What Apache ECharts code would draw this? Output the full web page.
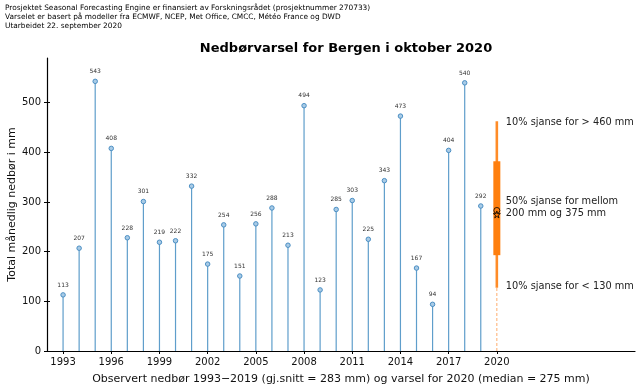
<!DOCTYPE html>
<html>
<head>
<meta charset="utf-8">
<script src="https://cdn.jsdelivr.net/npm/echarts@6/dist/echarts.min.js"></script>
<style>html,body{margin:0;padding:0;background:#fff;}#c{width:639px;height:391px;}</style>
</head>
<body>
<div id="c"></div>
<script>
const years = [1993,1994,1995,1996,1997,1998,1999,2000,2001,2002,2003,2004,2005,2006,2007,2008,2009,2010,2011,2012,2013,2014,2015,2016,2017,2018,2019];
const observed = [113,207,543,408,228,301,219,222,332,175,254,151,256,288,213,494,123,285,303,225,343,473,167,94,404,540,292];
const forecastYear = 2020;
const fcP10 = 130, fcQ1 = 200, fcQ3 = 375, fcP90 = 460;
const fcMedian = 275, obsMean = 283;
const xTickYears = [1993,1996,1999,2002,2005,2008,2011,2014,2017,2020];
const yTicks = [0,100,200,300,400,500];
const headerLines = [
  'Prosjektet Seasonal Forecasting Engine er finansiert av Forskningsrådet (prosjektnummer 270733)',
  'Varselet er basert på modeller fra ECMWF, NCEP, Met Office, CMCC, Météo France og DWD',
  'Utarbeidet 22. september 2020'
];
const titleText = 'Nedbørvarsel for Bergen i oktober 2020';
const xName = 'Observert nedbør 1993\u22122019 (gj.snitt = 283 mm) og varsel for 2020 (median = 275 mm)';
const yName = 'Total månedlig nedbør i mm';
const noteTop = '10% sjanse for > 460 mm';
const noteMid = '50% sjanse for mellom\n200 mm og 375 mm';
const noteBot = '10% sjanse for < 130 mm';

const FONT = 'DejaVu Sans';
const obsData = years.map((y,i)=>[y, observed[i]]);
const star = 'path://M50,0 L61,35 L98,35 L68,57 L79,91 L50,70 L21,91 L32,57 L2,35 L39,35 Z';

const chart = echarts.init(document.getElementById('c'), null, {renderer:'canvas'});
chart.setOption({
  animation:false,
  backgroundColor:'#fff',
  textStyle:{fontFamily:FONT},
  title:{text:titleText,left:341,textAlign:'center',top:37,
    textStyle:{fontFamily:FONT,fontSize:13,fontWeight:'bold',color:'#000'}},
  graphic:[{type:'text',left:5,top:4,style:{text:headerLines.join('\n'),font:'7.4px "DejaVu Sans"',lineHeight:9,fill:'#000'}}],
  grid:{left:47,right:4,top:58,bottom:40,containLabel:false,outerBoundsMode:'none'},
  xAxis:{type:'value',min:1992,max:2028.6,
    name:xName,nameLocation:'middle',nameGap:23,nameMoveOverlap:false,
    nameTextStyle:{fontFamily:FONT,fontSize:11,color:'#111'},
    axisLine:{show:true,lineStyle:{color:'#000',width:1.2}},
    axisTick:{show:true,length:3,lineStyle:{color:'#000'},customValues:xTickYears},
    axisLabel:{customValues:xTickYears,formatter:v=>String(v),fontFamily:FONT,fontSize:10,color:'#111',margin:6},
    splitLine:{show:false}},
  yAxis:[{type:'value',min:0,max:590,
    name:yName,nameLocation:'middle',nameGap:29,nameMoveOverlap:false,
    nameTextStyle:{fontFamily:FONT,fontSize:11,color:'#111'},
    axisLine:{show:true,lineStyle:{color:'#000',width:1.2}},
    axisTick:{show:true,length:3,lineStyle:{color:'#000'},customValues:yTicks},
    axisLabel:{customValues:yTicks,formatter:v=>String(v),fontFamily:FONT,fontSize:10,color:'#111',margin:6},
    splitLine:{show:false}},
   {type:'value',min:0,max:590,position:'left',
    axisLine:{show:false},axisLabel:{show:false},splitLine:{show:false},
    axisTick:{show:true,inside:true,length:3,lineStyle:{color:'#000'},customValues:yTicks}}],
  series:[
    {type:'custom',data:obsData,encode:{x:0,y:1},z:2,silent:true,
     renderItem:function(params,api){
       const p0=api.coord([api.value(0),0]);
       const p1=api.coord([api.value(0),api.value(1)]);
       return {type:'line',shape:{x1:p0[0],y1:p0[1],x2:p1[0],y2:p1[1]},
         style:{stroke:'#5f9ecb',lineWidth:1.2}};
     }},
    {type:'scatter',data:obsData,z:3,symbol:'circle',symbolSize:4.5,silent:true,
     itemStyle:{color:'#a9cbe6',borderColor:'#4b8fc4',borderWidth:1,opacity:1},
     label:{show:true,position:'top',distance:4,fontFamily:FONT,fontSize:6,color:'#333',
       formatter:p=>String(p.value[1])}},
    {type:'custom',data:[[forecastYear,fcP10,fcQ1,fcQ3,fcP90]],encode:{x:0,y:4},z:4,silent:true,
     renderItem:function(params,api){
       const x=api.value(0);
       const c0=api.coord([x,0]);
       const c10=api.coord([x,api.value(1)]);
       const c25=api.coord([x,api.value(2)]);
       const c75=api.coord([x,api.value(3)]);
       const c90=api.coord([x,api.value(4)]);
       const tx=c0[0]+9;
       const cm=api.coord([x,(api.value(2)+api.value(3))/2]);
       return {type:'group',children:[
         {type:'line',shape:{x1:c0[0],y1:c0[1],x2:c10[0],y2:c10[1]},
          style:{stroke:'#ffa45c',lineWidth:0.9,lineDash:[3,2]}},
         {type:'line',shape:{x1:c10[0],y1:c10[1],x2:c90[0],y2:c90[1]},
          style:{stroke:'#ff8c28',lineWidth:2.6,lineCap:'square'}},
         {type:'line',shape:{x1:c25[0],y1:c25[1],x2:c75[0],y2:c75[1]},
          style:{stroke:'#ff7f0e',lineWidth:7,lineCap:'square'}},
         {type:'text',x:tx,y:c90[1],style:{text:noteTop,font:'9.8px "DejaVu Sans"',fill:'#222',verticalAlign:'middle',align:'left'}},
         {type:'text',x:tx,y:cm[1]-1,style:{text:noteMid,font:'9.8px "DejaVu Sans"',lineHeight:12,fill:'#222',verticalAlign:'middle',align:'left'}},
         {type:'text',x:tx,y:c10[1],style:{text:noteBot,font:'9.8px "DejaVu Sans"',fill:'#222',verticalAlign:'middle',align:'left'}}
       ]};
     }},
    {type:'scatter',data:[[forecastYear,obsMean]],z:5,symbol:'circle',symbolSize:6,silent:true,
     itemStyle:{color:'rgba(0,0,0,0)',borderColor:'#000',borderWidth:1}},
    {type:'scatter',data:[[forecastYear,fcMedian]],z:6,symbol:star,symbolSize:7,silent:true,
     itemStyle:{color:'#ff7f0e',borderColor:'#000',borderWidth:1}}
  ]
});
</script>
</body>
</html>
